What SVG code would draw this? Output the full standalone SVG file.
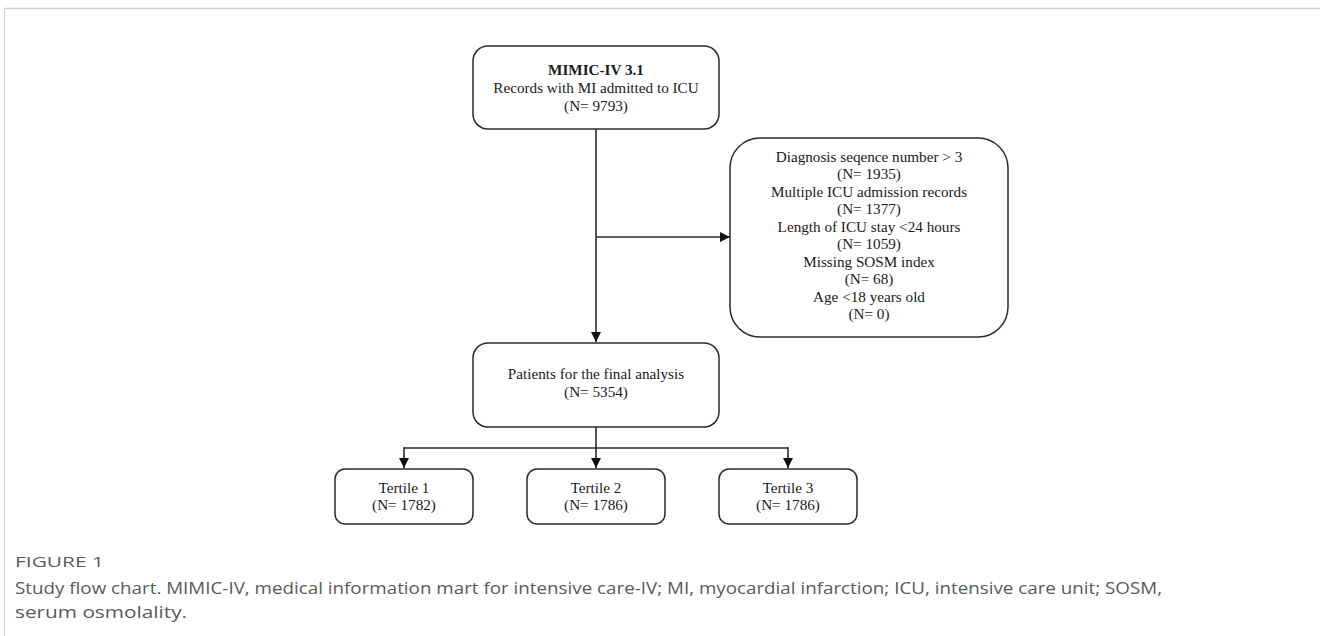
<svg xmlns="http://www.w3.org/2000/svg" width="1320" height="636" viewBox="0 0 1320 636">
<style>
.box{fill:#fff;stroke:#2b2b2b;stroke-width:1.5}
.t{font-family:"Liberation Serif","Times New Roman",serif;font-size:15.2px;fill:#1a1a1a;text-anchor:middle}
.b{font-weight:bold}
.ln{fill:none;stroke:#2b2b2b;stroke-width:1.6}
.cap{font-family:"Open Sans","Liberation Sans",sans-serif;fill:#5a5a5a}
</style>
<defs>
<marker id="ah" markerWidth="10" markerHeight="10" refX="10" refY="5" orient="auto" markerUnits="userSpaceOnUse">
<path d="M0,0 L10,5 L0,10 Z" fill="#111"/>
</marker>
</defs>
<rect width="1320" height="636" fill="#fff"/>
<g id="frame">
<line x1="4" y1="8.5" x2="1320" y2="8.5" stroke="#d0d0d0" stroke-width="1.5"/>
<line x1="4.5" y1="8" x2="4.5" y2="636" stroke="#d0d0d0" stroke-width="1"/>
</g>
<g id="connectors">
<line class="ln" x1="596" y1="129" x2="596" y2="342" marker-end="url(#ah)"/>
<line class="ln" x1="596" y1="237" x2="730" y2="237" marker-end="url(#ah)"/>
<line class="ln" x1="596" y1="427" x2="596" y2="468" marker-end="url(#ah)"/>
<line class="ln" x1="404" y1="448" x2="788" y2="448"/>
<line class="ln" x1="404" y1="447.2" x2="404" y2="468" marker-end="url(#ah)"/>
<line class="ln" x1="788" y1="447.2" x2="788" y2="468" marker-end="url(#ah)"/>
</g>
<g id="n-mimic">
<rect class="box" x="473" y="46" width="246" height="83" rx="15"/>
<text class="t b" x="596" y="75">MIMIC-IV 3.1</text>
<text class="t" x="596" y="93">Records with MI admitted to ICU</text>
<text class="t" x="596" y="111">(N= 9793)</text>
</g>
<g id="n-exclusion">
<rect class="box" x="730" y="138" width="278" height="199" rx="30"/>
<text class="t" x="869" y="162">Diagnosis seqence number &gt; 3</text>
<text class="t" x="869" y="179">(N= 1935)</text>
<text class="t" x="869" y="197">Multiple ICU admission records</text>
<text class="t" x="869" y="214">(N= 1377)</text>
<text class="t" x="869" y="232">Length of ICU stay &lt;24 hours</text>
<text class="t" x="869" y="249">(N= 1059)</text>
<text class="t" x="869" y="267">Missing SOSM index</text>
<text class="t" x="869" y="284">(N= 68)</text>
<text class="t" x="869" y="302">Age &lt;18 years old</text>
<text class="t" x="869" y="319">(N= 0)</text>
</g>
<g id="n-final">
<rect class="box" x="473" y="343" width="246" height="84" rx="15"/>
<text class="t" x="596" y="379">Patients for the final analysis</text>
<text class="t" x="596" y="397">(N= 5354)</text>
</g>
<g id="n-t1">
<rect class="box" x="335" y="469" width="138" height="55" rx="10"/>
<text class="t" x="404" y="493">Tertile 1</text>
<text class="t" x="404" y="510">(N= 1782)</text>
</g>
<g id="n-t2">
<rect class="box" x="527" y="469" width="138" height="55" rx="10"/>
<text class="t" x="596" y="493">Tertile 2</text>
<text class="t" x="596" y="510">(N= 1786)</text>
</g>
<g id="n-t3">
<rect class="box" x="719" y="469" width="138" height="55" rx="10"/>
<text class="t" x="788" y="493">Tertile 3</text>
<text class="t" x="788" y="510">(N= 1786)</text>
</g>
<g id="caption">
<text class="cap" x="15" y="567" font-size="14" textLength="89" lengthAdjust="spacingAndGlyphs">FIGURE 1</text>
<text class="cap" x="15" y="594" font-size="17" textLength="1147" lengthAdjust="spacingAndGlyphs">Study flow chart. MIMIC-IV, medical information mart for intensive care-IV; MI, myocardial infarction; ICU, intensive care unit; SOSM,</text>
<text class="cap" x="15" y="618" font-size="17" textLength="172" lengthAdjust="spacingAndGlyphs">serum osmolality.</text>
</g>
</svg>
